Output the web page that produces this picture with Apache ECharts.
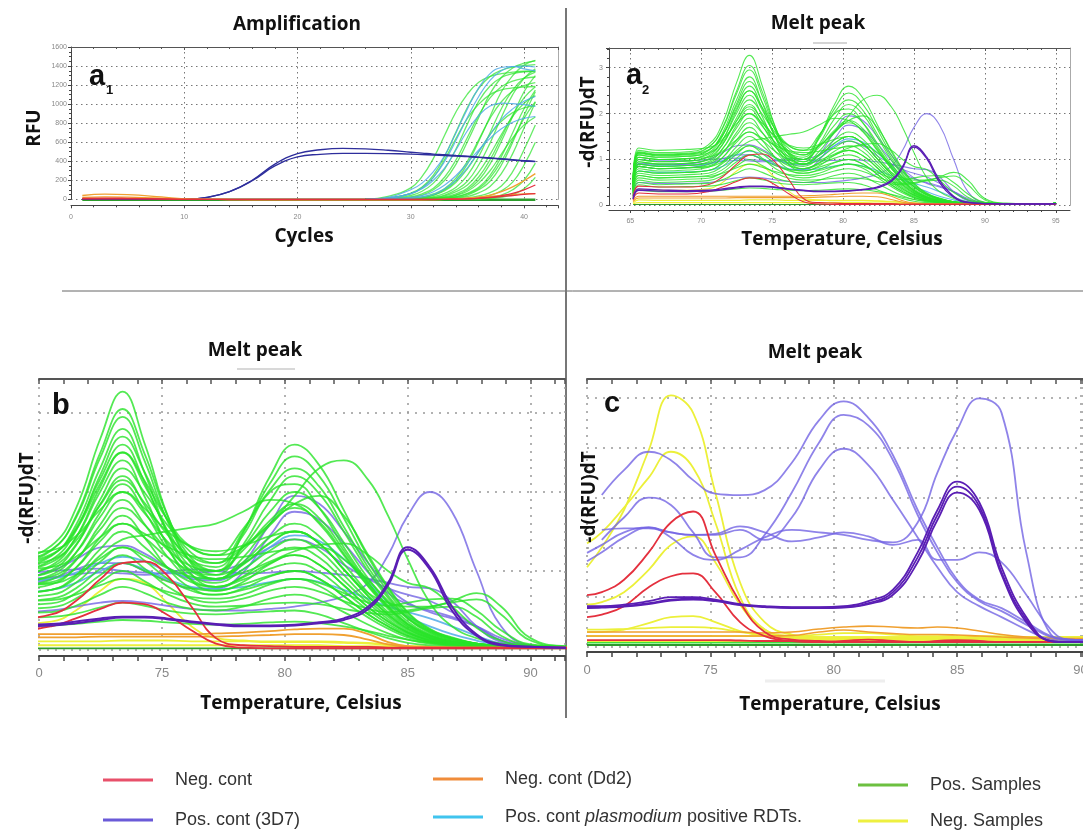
<!DOCTYPE html>
<html><head><meta charset="utf-8">
<script src="https://cdn.jsdelivr.net/npm/echarts@6/dist/echarts.min.js"></script>
<style>html,body{margin:0;padding:0;background:#fff;}#c{width:1083px;height:832px;}</style>
</head><body><div id="c"></div>
<script>
// ---------- names ----------
const N_NEG = 'Neg. cont';
const N_POS = 'Pos. cont (3D7)';
const N_DD2 = 'Neg. cont (Dd2)';
const N_RDT = 'Pos. cont plasmodium positive RDTs.';
const N_PS = 'Pos. Samples';
const N_NS = 'Neg. Samples';

// ---------- panel a1 : amplification ----------
const AMP_X = [1, 3, 5, 8, 10, 12, 14, 16, 18, 20, 22, 24, 26, 28, 30, 31, 32, 33, 34, 35, 36, 37, 38, 39, 40, 41];
const AMP_XL = [26, 28, 30, 31, 32, 33, 34, 35, 36, 37, 38, 39, 40, 41];
const AMP_3D7 = [
  [0,0,0,0,0,20,80,200,370,480,520,535,530,515,495,485,475,468,460,452,443,435,425,415,405,398],
  [0,0,0,0,0,20,80,195,350,445,472,482,482,480,475,470,465,460,455,448,440,432,423,413,403,396]
];
const AMP_RDT = [
  [0,20,100,170,290,460,700,950,1170,1320,1385,1395,1370,1350],
  [0,10,60,110,200,330,520,720,880,980,1010,1005,995,975],
  [0,5,20,40,80,150,250,380,520,640,740,810,850,870],
  [0,0,10,25,50,110,200,330,500,680,840,950,1030,1080],
  [0,10,60,120,230,400,620,860,1080,1250,1350,1395,1400,1390]
];
const AMP_POS = [
  [0,30,120,240,430,675,920,1105,1230,1290,1320,1335,1345,1348],
  [0,10,64,128,255,455,710,965,1165,1290,1356,1390,1405,1415],
  [0,5,26,58,117,234,416,650,884,1066,1183,1241,1270,1285],
  [0,4,19,45,100,200,370,605,860,1110,1280,1380,1430,1455],
  [0,0,10,25,56,112,225,400,625,850,1025,1137,1194,1225],
  [0,0,8,20,45,100,200,370,610,870,1130,1300,1410,1460],
  [0,0,5,12,28,63,126,252,448,700,952,1148,1274,1337],
  [0,0,4,9,20,45,100,190,360,590,860,1100,1270,1370],
  [0,0,0,5,12,26,58,117,234,416,650,884,1066,1183],
  [0,0,0,4,9,20,45,100,200,370,610,870,1130,1300],
  [0,0,0,0,5,12,28,63,126,252,448,700,952,1148],
  [0,0,0,0,4,10,20,45,100,190,360,600,880,1130],
  [0,0,0,0,0,5,12,30,68,135,270,480,750,1020],
  [0,0,0,0,0,0,5,15,35,70,140,290,520,780],
  [0,0,0,0,0,0,0,8,20,40,90,180,360,600],
  [0,0,0,0,0,0,0,0,8,20,45,100,200,380],
  [0,0,0,0,0,0,0,0,0,10,22,50,110,230],
  [0,15,60,120,230,420,640,850,1000,1100,1150,1170,1180,1185],
  [0,0,8,20,45,90,180,320,500,680,820,910,960,985],
  [0,0,0,4,9,19,42,85,170,300,475,645,780,865],
  [0,0,3,7,16,36,80,150,285,470,680,870,1010,1090],
  [0,0,0,0,5,11,25,56,112,225,400,625,850,1025],
  [0,7,40,85,170,320,530,790,1030,1190,1280,1320,1340,1345]
];
const AMP_POS_FLAT = [-5,-5,-5,-5,-5,-5,-5,-5,-5,-5,-5,-5,-5,-5,-5,-5,-5,-5,-5,-5,-5,-5,-5,-5,-5,-5];
const AMP_DD2 = [
  [40,55,50,25,5,0,-3,-5,-5,-5,-5,-5,-5,-5,-5,-5,-3,0,5,12,20,30,40,50,57,60],
  [20,25,22,12,3,0,-2,-3,-3,-3,-3,-3,-3,-3,-3,-3,-3,0,3,10,22,45,80,130,195,270]
];
const AMP_NEG = [
  [10,12,10,5,0,0,-2,-2,-2,-2,-2,-2,-2,-2,-2,-2,-2,0,2,5,10,20,38,62,100,150],
  [5,5,5,2,0,0,0,0,0,0,0,0,0,0,0,0,0,0,2,5,10,18,28,40,52,60]
];

// ---------- panels a2 and b : melt peak (same run) ----------
const MELT_X = [65.2,65.6,67,69,70.5,71.5,72.5,73.4,74.3,75.2,76.2,77.2,78.3,79.4,80.4,81.4,82.4,83.4,84.2,85.0,85.9,86.8,87.8,88.8,90,91.5,94.5,95];
const MELT_POS = [
  [0.52,1.2,1.15,1.17,1.32,1.79,2.68,3.27,2.61,1.73,1.09,0.9,1.08,1.35,1.5,1.35,1.02,0.68,0.45,0.27,0.15,0.09,0.06,0.05,0.04,0.03,0.03,0.05],
  [0.5,1.15,1.1,1.12,1.26,1.69,2.5,3.05,2.48,1.72,1.16,1.0,1.48,2.2,2.6,2.34,1.77,1.17,0.78,0.47,0.26,0.16,0.08,0.05,0.04,0.03,0.03,0.05],
  [0.5,1.17,1.12,1.14,1.27,1.67,2.44,2.95,2.39,1.65,1.11,0.95,1.33,1.89,2.2,1.98,1.5,0.99,0.66,0.4,0.22,0.13,0.08,0.05,0.04,0.03,0.03,0.05],
  [0.47,1.1,1.05,1.07,1.19,1.58,2.31,2.8,2.24,1.5,0.96,0.8,0.92,1.1,1.2,1.08,0.82,0.54,0.36,0.22,0.12,0.08,0.06,0.05,0.04,0.03,0.03,0.05],
  [0.45,1.05,1.0,1.02,1.14,1.51,2.22,2.7,2.25,1.66,1.23,1.1,1.5,2.11,2.45,2.2,1.67,1.1,0.74,0.44,0.25,0.15,0.08,0.05,0.04,0.03,0.03,0.05],
  [0.49,1.13,1.08,1.1,1.2,1.54,2.17,2.6,2.12,1.5,1.04,0.9,1.17,1.58,1.8,1.62,1.22,0.81,0.54,0.32,0.18,0.11,0.07,0.05,0.04,0.03,0.03,0.05],
  [0.43,1.0,0.95,0.97,1.07,1.42,2.07,2.5,2.08,1.53,1.12,1.0,1.3,1.75,2.0,1.8,1.36,0.9,0.6,0.36,0.2,0.12,0.07,0.05,0.04,0.03,0.03,0.05],
  [0.45,1.05,1.0,1.02,1.11,1.42,2.01,2.4,1.94,1.33,0.88,0.75,0.83,0.94,1.0,0.9,0.68,0.45,0.3,0.18,0.1,0.07,0.06,0.05,0.04,0.03,0.03,0.05],
  [0.4,0.95,0.9,0.92,1.01,1.32,1.91,2.3,1.99,1.59,1.29,1.2,1.3,1.6,1.95,2.3,2.4,2.15,1.7,1.15,0.6,0.3,0.15,0.08,0.05,0.04,0.03,0.05],
  [0.43,1.0,0.95,0.97,1.05,1.33,1.85,2.2,1.83,1.36,1.0,0.9,1.11,1.43,1.6,1.44,1.09,0.72,0.48,0.29,0.16,0.1,0.07,0.05,0.04,0.03,0.03,0.05],
  [0.38,0.9,0.85,0.87,0.95,1.23,1.75,2.1,1.75,1.29,0.95,0.85,1.02,1.26,1.4,1.26,0.95,0.63,0.42,0.25,0.14,0.09,0.06,0.05,0.04,0.03,0.03,0.05],
  [0.41,0.95,0.9,0.92,0.99,1.23,1.69,2.0,1.73,1.38,1.13,1.05,1.45,2.0,2.1,1.8,1.3,0.85,0.55,0.33,0.18,0.1,0.07,0.05,0.04,0.03,0.03,0.05],
  [0.36,0.85,0.8,0.82,0.89,1.13,1.59,1.9,1.59,1.19,0.89,0.8,0.89,1.03,1.1,0.99,0.75,0.5,0.33,0.2,0.11,0.08,0.06,0.05,0.04,0.03,0.03,0.05],
  [0.38,0.9,0.85,0.87,0.93,1.14,1.53,1.8,1.58,1.28,1.06,1.0,1.26,1.64,1.85,1.67,1.26,0.83,0.56,0.33,0.19,0.11,0.07,0.05,0.04,0.03,0.03,0.05],
  [0.34,0.8,0.75,0.77,0.83,1.04,1.43,1.7,1.42,1.05,0.78,0.7,0.76,0.85,0.9,0.81,0.61,0.41,0.27,0.16,0.1,0.07,0.06,0.05,0.04,0.03,0.03,0.05],
  [0.36,0.85,0.8,0.82,0.86,1.04,1.38,1.6,1.42,1.18,1.0,0.95,1.09,1.36,1.5,1.35,1.02,0.72,0.6,0.55,0.55,0.62,0.72,0.55,0.15,0.05,0.03,0.05],
  [0.32,0.75,0.7,0.72,0.76,0.94,1.28,1.5,1.3,1.05,0.86,0.8,0.93,1.18,1.3,1.17,0.88,0.59,0.39,0.23,0.13,0.08,0.06,0.05,0.04,0.03,0.03,0.05],
  [0.32,0.75,0.7,0.72,0.76,0.91,1.2,1.4,1.45,1.5,1.55,1.6,1.75,1.9,1.85,1.6,1.2,0.8,0.52,0.3,0.17,0.1,0.07,0.05,0.04,0.03,0.03,0.05],
  [0.29,0.7,0.65,0.67,0.7,0.85,1.12,1.3,1.13,0.91,0.75,0.7,0.78,0.93,1.0,0.9,0.68,0.45,0.3,0.18,0.1,0.07,0.06,0.05,0.04,0.03,0.03,0.05],
  [0.27,0.65,0.6,0.62,0.65,0.78,1.03,1.2,1.03,0.81,0.65,0.6,0.65,0.75,0.8,0.74,0.62,0.52,0.48,0.5,0.55,0.6,0.64,0.45,0.12,0.04,0.03,0.05],
  [0.25,0.6,0.55,0.57,0.59,0.72,0.95,1.1,1.0,0.87,0.78,0.75,0.86,1.09,1.2,1.08,0.82,0.54,0.36,0.22,0.12,0.08,0.06,0.05,0.04,0.03,0.03,0.05],
  [0.23,0.55,0.5,0.52,0.54,0.65,0.86,1.0,0.87,0.71,0.59,0.55,0.56,0.59,0.6,0.58,0.52,0.47,0.45,0.48,0.53,0.55,0.42,0.18,0.06,0.04,0.03,0.05],
  [0.2,0.5,0.45,0.47,0.48,0.56,0.7,0.8,0.72,0.6,0.52,0.5,0.55,0.65,0.7,0.63,0.48,0.32,0.21,0.13,0.08,0.06,0.05,0.05,0.04,0.03,0.03,0.05],
  [0.18,0.45,0.4,0.41,0.42,0.46,0.54,0.6,0.56,0.5,0.46,0.45,0.47,0.49,0.5,0.45,0.34,0.23,0.15,0.09,0.06,0.05,0.05,0.05,0.04,0.03,0.03,0.05],
  [0.54,1.25,1.2,1.22,1.26,1.44,1.78,2.0,1.79,1.51,1.31,1.25,1.32,1.44,1.5,1.35,1.02,0.68,0.45,0.27,0.15,0.09,0.06,0.05,0.04,0.03,0.03,0.05],
  [0.45,1.05,1.0,1.02,1.05,1.18,1.43,1.6,1.47,1.31,1.19,1.15,1.18,1.24,1.28,1.3,1.15,0.88,0.62,0.4,0.24,0.14,0.08,0.05,0.04,0.03,0.03,0.05],
  [0.36,0.85,0.8,0.82,0.84,0.95,1.16,1.3,1.19,1.04,0.93,0.9,0.98,1.12,1.25,1.33,1.35,1.2,1.0,0.85,0.78,0.55,0.28,0.12,0.05,0.04,0.03,0.05],
  [0.27,0.65,0.6,0.62,0.63,0.7,0.82,0.9,0.83,0.74,0.67,0.65,0.7,0.83,0.9,0.85,0.72,0.6,0.56,0.6,0.64,0.65,0.5,0.25,0.07,0.04,0.03,0.05],
  [0.5,1.15,1.1,1.12,1.21,1.52,2.11,2.5,2.14,1.66,1.3,1.2,1.53,2.03,2.3,2.07,1.56,1.04,0.69,0.41,0.23,0.14,0.08,0.05,0.04,0.03,0.03,0.05],
  [0.47,1.1,1.05,1.07,1.14,1.38,1.84,2.15,1.86,1.47,1.18,1.1,1.3,1.6,1.85,1.95,1.7,1.2,0.8,0.48,0.27,0.15,0.08,0.05,0.04,0.03,0.03,0.05],
  [0.14,0.33,0.3,0.3,0.31,0.33,0.36,0.38,0.37,0.35,0.33,0.32,0.33,0.35,0.36,0.34,0.3,0.24,0.18,0.13,0.09,0.07,0.06,0.05,0.04,0.03,0.03,0.05]
];
const MELT_POS_FLAT = [0.02,0.02,0.02,0.02,0.02,0.02,0.02,0.02,0.02,0.02,0.02,0.02,0.02,0.02,0.02,0.02,0.02,0.02,0.02,0.02,0.02,0.02,0.02,0.02,0.02,0.02,0.02,0.02];
const MELT_3D7_LIGHT = [
  [0.2,0.5,0.48,0.48,0.5,0.55,0.6,0.62,0.6,0.56,0.52,0.5,0.5,0.52,0.55,0.6,0.68,0.85,1.2,1.7,2.0,1.75,1.0,0.3,0.06,0.03,0.03,0.04],
  [0.4,0.9,0.88,0.9,1.0,1.15,1.3,1.32,1.22,1.05,0.9,0.88,1.1,1.6,1.95,1.85,1.5,1.1,0.8,0.6,0.48,0.4,0.3,0.15,0.05,0.03,0.03,0.04],
  [0.38,0.85,0.8,0.82,0.9,1.02,1.1,1.1,1.0,0.88,0.78,0.78,0.98,1.45,1.75,1.65,1.35,0.98,0.72,0.58,0.5,0.42,0.3,0.12,0.05,0.03,0.03,0.04],
  [0.45,1.0,0.97,0.97,1.0,1.02,1.03,1.0,0.98,0.97,0.98,1.0,1.1,1.3,1.4,1.3,1.08,0.9,0.78,0.7,0.62,0.48,0.3,0.12,0.05,0.03,0.03,0.04],
  [0.42,0.92,0.9,0.9,0.92,0.96,0.98,0.97,0.95,0.98,1.02,1.0,0.97,0.98,1.0,0.98,0.95,0.9,0.85,0.8,0.78,0.62,0.3,0.1,0.05,0.03,0.03,0.04]
];
const MELT_3D7_DARK = [
  [0.15,0.36,0.34,0.32,0.33,0.36,0.4,0.42,0.42,0.4,0.36,0.33,0.31,0.31,0.32,0.35,0.4,0.55,0.85,1.3,1.05,0.55,0.2,0.07,0.04,0.03,0.03,0.04],
  [0.14,0.33,0.31,0.3,0.31,0.34,0.38,0.41,0.41,0.39,0.35,0.32,0.3,0.3,0.31,0.34,0.38,0.52,0.82,1.27,1.02,0.5,0.18,0.06,0.04,0.03,0.03,0.04]
];
const MELT_RDT = [
  [0.4,0.9,0.86,0.87,0.9,0.98,1.1,1.18,1.12,1.0,0.92,0.9,1.02,1.3,1.45,1.38,1.15,0.85,0.6,0.42,0.3,0.2,0.12,0.06,0.04,0.03,0.03,0.04],
  [0.33,0.75,0.72,0.73,0.76,0.85,1.0,1.1,1.02,0.9,0.8,0.77,0.8,0.86,0.9,0.86,0.76,0.65,0.55,0.48,0.4,0.3,0.18,0.08,0.04,0.03,0.03,0.04]
];
const MELT_NEG = [
  [0.2,0.42,0.4,0.4,0.45,0.62,0.9,1.1,1.12,0.95,0.55,0.15,0.06,0.05,0.04,0.04,0.04,0.04,0.03,0.03,0.03,0.03,0.03,0.03,0.03,0.03,0.03,0.03],
  [0.12,0.27,0.25,0.25,0.3,0.4,0.52,0.6,0.58,0.45,0.25,0.08,0.03,0.02,0.02,0.02,0.02,0.02,0.02,0.02,0.02,0.02,0.02,0.02,0.02,0.02,0.02,0.02]
];
const MELT_DD2 = [
  [0.1,0.2,0.2,0.2,0.2,0.2,0.2,0.2,0.2,0.2,0.2,0.21,0.22,0.24,0.26,0.27,0.27,0.2,0.1,0.05,0.04,0.03,0.03,0.03,0.03,0.03,0.03,0.03],
  [0.08,0.16,0.16,0.16,0.16,0.16,0.17,0.17,0.17,0.17,0.17,0.17,0.18,0.19,0.2,0.2,0.19,0.13,0.07,0.04,0.03,0.03,0.03,0.03,0.03,0.03,0.03,0.03]
];
const MELT_NS = [
  [0.05,0.12,0.11,0.11,0.11,0.11,0.11,0.12,0.12,0.12,0.11,0.11,0.11,0.11,0.11,0.11,0.1,0.09,0.07,0.05,0.04,0.03,0.03,0.03,0.03,0.03,0.03,0.03],
  [0.03,0.06,0.06,0.06,0.06,0.06,0.06,0.06,0.06,0.06,0.06,0.06,0.06,0.06,0.06,0.06,0.05,0.05,0.04,0.04,0.03,0.03,0.03,0.03,0.03,0.03,0.03,0.03],
  [0.15,0.35,0.33,0.33,0.36,0.5,0.75,0.9,0.85,0.6,0.3,0.15,0.12,0.1,0.1,0.1,0.09,0.08,0.06,0.05,0.04,0.03,0.03,0.03,0.03,0.03,0.03,0.03]
];

// ---------- panel c : melt peak (controls + negative samples) ----------
const C_X = [70,70.6,71.5,72.5,73.4,74.3,75.2,76.2,77.2,78.3,79.4,80.4,81.4,82.4,83.4,84.2,85.0,85.9,86.8,87.8,88.8,89.5,90.3];
const C_3D7_LIGHT = [
  [null,3.05,3.55,3.92,3.75,3.35,3.08,3.05,3.15,3.7,4.55,4.93,4.6,3.85,2.75,2.0,1.35,0.95,0.78,0.5,0.22,0.15,0.14],
  [null,2.15,2.6,3.0,2.85,2.3,1.8,1.8,2.25,3.1,4.1,4.66,4.45,3.75,2.65,1.9,1.3,0.92,0.72,0.45,0.2,0.15,0.14],
  [1.89,2.05,2.3,2.4,2.3,2.25,2.25,2.35,2.15,2.6,3.55,3.98,3.65,2.95,2.2,1.6,1.1,0.82,0.6,0.35,0.15,0.12,0.12],
  [null,2.35,2.38,2.38,2.3,2.25,2.27,2.42,2.3,2.12,2.2,2.3,2.22,2.05,2.15,1.75,1.75,1.9,1.7,1.05,0.35,0.15,0.14],
  [1.72,1.9,2.2,2.4,2.2,1.85,1.75,1.95,2.2,2.35,2.3,2.25,2.15,2.1,2.5,3.5,4.36,4.99,4.7,1.9,0.25,0.15,0.14]
];
const C_3D7_DARK = [
  [0.82,0.82,0.85,0.92,1.0,1.0,0.95,0.86,0.82,0.8,0.8,0.82,0.92,1.15,1.9,2.75,3.32,2.9,1.6,0.6,0.12,0.1,0.1],
  [0.8,0.8,0.82,0.88,0.95,0.97,0.93,0.85,0.81,0.79,0.79,0.8,0.88,1.1,1.8,2.65,3.22,2.82,1.5,0.55,0.12,0.1,0.1],
  [0.78,0.79,0.81,0.86,0.93,0.95,0.92,0.84,0.8,0.78,0.78,0.79,0.86,1.05,1.7,2.55,3.1,2.75,1.45,0.5,0.12,0.1,0.1]
];
const C_NEG = [
  [1.04,1.1,1.35,1.9,2.5,2.72,1.85,0.9,0.3,0.15,0.12,0.1,0.1,0.1,0.1,0.1,0.1,0.1,0.1,0.1,0.1,0.1,0.1],
  [0.6,0.65,0.82,1.2,1.42,1.48,1.1,0.5,0.22,0.12,0.1,0.1,0.1,0.1,0.1,0.1,0.1,0.1,0.1,0.1,0.1,0.1,0.1],
  [0.14,0.14,0.14,0.14,0.14,0.14,0.14,0.13,0.12,0.12,0.1,0.12,0.15,0.12,0.1,0.12,0.14,0.12,0.1,0.1,0.1,0.1,0.1]
];
const C_NS = [
  [1.6,2.0,2.75,3.95,5.05,4.7,3.1,1.3,0.5,0.25,0.2,0.2,0.2,0.2,0.2,0.2,0.2,0.2,0.2,0.2,0.2,0.2,0.2],
  [2.08,2.3,2.8,3.4,3.92,3.6,2.5,1.0,0.35,0.2,0.18,0.18,0.18,0.18,0.18,0.18,0.18,0.18,0.18,0.18,0.18,0.18,0.18],
  [0.85,0.9,1.1,1.55,2.05,2.22,1.7,0.85,0.35,0.2,0.15,0.15,0.15,0.15,0.15,0.15,0.15,0.15,0.15,0.15,0.15,0.15,0.15],
  [0.3,0.3,0.35,0.48,0.6,0.62,0.5,0.32,0.22,0.18,0.15,0.15,0.15,0.15,0.15,0.15,0.15,0.15,0.15,0.15,0.15,0.15,0.15],
  [0.22,0.22,0.22,0.22,0.22,0.22,0.22,0.22,0.22,0.22,0.25,0.28,0.28,0.25,0.22,0.22,0.22,0.22,0.22,0.2,0.2,0.2,0.2],
  [0.12,0.12,0.12,0.12,0.12,0.12,0.12,0.12,0.12,0.12,0.12,0.12,0.12,0.12,0.12,0.12,0.12,0.12,0.12,0.12,0.12,0.12,0.12],
  [0.35,0.35,0.36,0.38,0.4,0.4,0.38,0.3,0.25,0.22,0.2,0.2,0.2,0.2,0.2,0.2,0.2,0.2,0.2,0.2,0.2,0.2,0.2]
];
const C_DD2 = [
  [0.3,0.3,0.3,0.3,0.3,0.3,0.3,0.3,0.28,0.3,0.36,0.4,0.42,0.4,0.38,0.4,0.38,0.32,0.25,0.2,0.18,0.17,0.17],
  [0.22,0.22,0.22,0.22,0.22,0.22,0.22,0.22,0.22,0.23,0.3,0.34,0.3,0.27,0.25,0.25,0.24,0.22,0.2,0.18,0.17,0.16,0.16]
];
const C_PS = [
  [0.09,0.09,0.09,0.09,0.09,0.09,0.09,0.09,0.09,0.09,0.09,0.09,0.09,0.09,0.09,0.09,0.09,0.09,0.09,0.09,0.09,0.09,0.09],
  [0.04,0.04,0.04,0.04,0.04,0.04,0.04,0.04,0.04,0.04,0.04,0.04,0.04,0.04,0.04,0.04,0.04,0.04,0.04,0.04,0.04,0.04,0.04]
];

// ---------- styling ----------
const FT = '"Open Sans", "DejaVu Sans", sans-serif';
const FL = '"Liberation Sans", Arial, sans-serif';
const COL = {
  green: 'rgba(40,228,40,0.8)', greenA1: 'rgba(45,228,45,0.72)', greenDark: '#2c9c2c',
  lav: 'rgba(115,100,228,0.8)', purple: '#5a1eb4', red: '#e4303e', orange: '#f0a030',
  yellow: '#ecf03a', lblue: 'rgba(80,170,230,0.85)', navy: '#2e2e9c'
};

// axis indices: [xAxisIndex, yAxisIndex] per panel
const AX = { a1: [0, 0], a2: [2, 1], b: [6, 3], c: [8, 4] };
function ln(name, xs, ys, color, width, ax, clip) {
  return {
    type: 'line', name: name, xAxisIndex: ax[0], yAxisIndex: ax[1],
    data: xs.map((x, i) => [x, ys[i]]),
    smooth: 0.45, symbol: 'none', showSymbol: false, clip: clip !== false,
    lineStyle: { color: color, width: width },
    itemStyle: { color: color }, silent: true, animation: false,
    emphasis: { disabled: true }, connectNulls: false
  };
}

const series = [];
// a1
series.push(ln(N_PS, AMP_X, AMP_POS_FLAT, COL.greenDark, 2.5, AX.a1, false));
AMP_POS.forEach(y => series.push(ln(N_PS, AMP_XL, y, COL.greenA1, 1.3, AX.a1, false)));
AMP_RDT.forEach(y => series.push(ln(N_RDT, AMP_XL, y, COL.lblue, 1.2, AX.a1, false)));
AMP_3D7.forEach(y => series.push(ln(N_POS, AMP_X, y, COL.navy, 1.4, AX.a1, false)));
AMP_DD2.forEach(y => series.push(ln(N_DD2, AMP_X, y, COL.orange, 1.3, AX.a1, false)));
AMP_NEG.forEach(y => series.push(ln(N_NEG, AMP_X, y, COL.red, 1.3, AX.a1, false)));
// a2 and b : same run
[AX.a2, AX.b].forEach(ax => {
  const w = ax === AX.a2 ? 1.1 : 1.8;
  MELT_NS.forEach(y => series.push(ln(N_NS, MELT_X, y, COL.yellow, w, ax)));
  MELT_3D7_LIGHT.forEach(y => series.push(ln(N_POS, MELT_X, y, COL.lav, w, ax)));
  MELT_RDT.forEach(y => series.push(ln(N_RDT, MELT_X, y, COL.lblue, w, ax)));
  MELT_POS.forEach(y => series.push(ln(N_PS, MELT_X, y, COL.green, w, ax)));
  series.push(ln(N_PS, MELT_X, MELT_POS_FLAT, COL.greenDark, w, ax));
  MELT_DD2.forEach(y => series.push(ln(N_DD2, MELT_X, y, COL.orange, w, ax)));
  MELT_NEG.forEach(y => series.push(ln(N_NEG, MELT_X, y, COL.red, w, ax)));
  MELT_3D7_DARK.forEach(y => series.push(ln(N_POS, MELT_X, y, COL.purple, w + 0.2, ax)));
});
// c
C_PS.forEach((y, i) => series.push(ln(N_PS, C_X, y, i ? COL.greenDark : '#3ee03e', 2, AX.c)));
C_NS.forEach(y => series.push(ln(N_NS, C_X, y, COL.yellow, 1.8, AX.c)));
C_DD2.forEach(y => series.push(ln(N_DD2, C_X, y, COL.orange, 1.6, AX.c)));
C_3D7_LIGHT.forEach(y => series.push(ln(N_POS, C_X, y, COL.lav, 1.8, AX.c)));
C_NEG.forEach(y => series.push(ln(N_NEG, C_X, y, COL.red, 1.8, AX.c)));
C_3D7_DARK.forEach(y => series.push(ln(N_POS, C_X, y, COL.purple, 1.8, AX.c)));

// ---------- grids ----------
// a1: 0-level at y=199, frame bottom 205 ; a2: 0-level 205.4, frame bottom 210
const GB = { show: false, containLabel: false, outerBoundsMode: 'none' };
const grid = [
  Object.assign({ left: 71, top: 47, width: 487, height: 152.3 }, GB),          // 0 a1
  Object.assign({ left: 609, top: 48, width: 461, height: 157.4 }, GB),         // 1 a2 data
  Object.assign({ left: 630.3, top: 48, width: 425.5, height: 157.4 }, GB),     // 2 a2 ticks 65..95
  Object.assign({ left: 39, top: 379, width: 526, height: 271 }, GB),           // 3 b
  Object.assign({ left: 587, top: 379, width: 496, height: 268 }, GB)           // 4 c
];

// ---------- axes ----------
const dotA = { show: true, lineStyle: { color: '#777', type: [1.5, 3.5], width: 1 } };
const dotB = { show: true, lineStyle: { color: '#999', type: [2, 6], width: 1.5 } };
const none = { show: false };
const lblSmall = { fontSize: 7, color: '#888', fontFamily: FL, formatter: v => String(v) };
const xAxis = [
  // 0 a1 bottom
  { gridIndex: 0, type: 'value', min: 0, max: 43, interval: 10, position: 'bottom', offset: 6,
    axisLine: { show: true, onZero: false, lineStyle: { color: '#444' } },
    axisTick: { show: true, length: 3, lineStyle: { color: '#444' } },
    minorTick: { show: true, splitNumber: 5, length: 2, lineStyle: { color: '#444' } },
    axisLabel: Object.assign({ margin: 8, showMaxLabel: false }, lblSmall), splitLine: dotA },
  // 1 a1 top
  { gridIndex: 0, type: 'value', min: 0, max: 43, interval: 10, position: 'top',
    axisLine: { show: true, onZero: false, lineStyle: { color: '#555' } },
    axisTick: { show: true, inside: true, length: 3, lineStyle: { color: '#555' } },
    minorTick: { show: true, splitNumber: 5, length: 2, lineStyle: { color: '#555' } },
    axisLabel: none, splitLine: none },
  // 2 a2 data bottom (line only)
  { gridIndex: 1, type: 'value', min: 63.5, max: 96, position: 'bottom', offset: 4.6,
    axisLine: { show: true, onZero: false, lineStyle: { color: '#444' } },
    axisTick: none, minorTick: none, axisLabel: none, splitLine: none },
  // 3 a2 data top (line only)
  { gridIndex: 1, type: 'value', min: 63.5, max: 96, position: 'top',
    axisLine: { show: true, onZero: false, lineStyle: { color: '#555' } },
    axisTick: none, minorTick: none, axisLabel: none, splitLine: none },
  // 4 a2 ticks bottom 65..95
  { gridIndex: 2, type: 'value', min: 65, max: 95, interval: 5, position: 'bottom', offset: 4.6,
    axisLine: { show: false, onZero: false },
    axisTick: { show: true, length: 3, lineStyle: { color: '#444' } },
    minorTick: { show: true, splitNumber: 5, length: 2, lineStyle: { color: '#444' } },
    axisLabel: Object.assign({ margin: 8 }, lblSmall), splitLine: dotA },
  // 5 a2 ticks top
  { gridIndex: 2, type: 'value', min: 65, max: 95, interval: 5, position: 'top',
    axisLine: { show: false, onZero: false },
    axisTick: { show: true, inside: true, length: 3, lineStyle: { color: '#555' } },
    minorTick: { show: true, splitNumber: 5, length: 2, lineStyle: { color: '#555' } },
    axisLabel: none, splitLine: none },
  // 6 b bottom
  { gridIndex: 3, type: 'value', min: 70, max: 91.4, interval: 5, position: 'bottom', offset: 6,
    axisLine: { show: true, onZero: false, lineStyle: { color: '#444', width: 2 } },
    axisTick: { show: true, length: 5, lineStyle: { color: '#444', width: 1.5 } },
    minorTick: { show: true, splitNumber: 5, length: 5, lineStyle: { color: '#444', width: 1.5 } },
    axisLabel: { fontSize: 13, color: '#888', margin: 11, fontFamily: FL, showMaxLabel: false,
      formatter: v => v === 70 ? '0' : String(v) },
    splitLine: dotB },
  // 7 b top
  { gridIndex: 3, type: 'value', min: 70, max: 91.4, interval: 5, position: 'top',
    axisLine: { show: true, onZero: false, lineStyle: { color: '#555', width: 2 } },
    axisTick: { show: true, inside: true, length: 5, lineStyle: { color: '#555', width: 1.5 } },
    minorTick: { show: true, splitNumber: 5, length: 5, lineStyle: { color: '#555', width: 1.5 } },
    axisLabel: none, splitLine: none },
  // 8 c bottom
  { gridIndex: 4, type: 'value', min: 70, max: 90.1, interval: 5, position: 'bottom', offset: 5,
    axisLine: { show: true, onZero: false, lineStyle: { color: '#444', width: 2 } },
    axisTick: { show: true, length: 5, lineStyle: { color: '#444', width: 1.5 } },
    minorTick: { show: true, splitNumber: 5, length: 5, lineStyle: { color: '#444', width: 1.5 } },
    axisLabel: { fontSize: 13, color: '#888', margin: 12, fontFamily: FL, showMaxLabel: false,
      formatter: v => v === 70 ? '0' : String(v) },
    splitLine: dotB },
  // 9 c top
  { gridIndex: 4, type: 'value', min: 70, max: 90.1, interval: 5, position: 'top',
    axisLine: { show: true, onZero: false, lineStyle: { color: '#555', width: 2 } },
    axisTick: { show: true, inside: true, length: 5, lineStyle: { color: '#555', width: 1.5 } },
    minorTick: { show: true, splitNumber: 5, length: 5, lineStyle: { color: '#555', width: 1.5 } },
    axisLabel: none, splitLine: none }
];
const yAxis = [
  // 0 a1
  { gridIndex: 0, type: 'value', min: 0, max: 1600, interval: 200,
    axisLine: { show: true, onZero: false, lineStyle: { color: '#444' } },
    axisTick: { show: true, length: 3, lineStyle: { color: '#444' } },
    minorTick: { show: true, splitNumber: 4, length: 2, lineStyle: { color: '#444' } },
    axisLabel: Object.assign({ margin: 4 }, lblSmall), splitLine: dotA },
  // 1 a2 data
  { gridIndex: 1, type: 'value', min: 0, max: 3.43, interval: 1,
    axisLine: { show: true, onZero: false, lineStyle: { color: '#444' } },
    axisTick: { show: true, length: 3, lineStyle: { color: '#444' } },
    minorTick: { show: true, splitNumber: 5, length: 2, lineStyle: { color: '#444' } },
    axisLabel: Object.assign({ margin: 6, showMaxLabel: false }, lblSmall), splitLine: dotA },
  // 2 a2 tick grid (hidden)
  { gridIndex: 2, type: 'value', min: 0, max: 1, show: false },
  // 3 b
  { gridIndex: 3, type: 'value', min: 0, max: 3.43, interval: 1,
    axisLine: none, axisTick: none, axisLabel: none, splitLine: dotB },
  // 4 c
  { gridIndex: 4, type: 'value', min: 0, max: 5.38, interval: 1,
    axisLine: none, axisTick: none, axisLabel: none, splitLine: dotB },
  // 5 a1 right border
  { gridIndex: 0, type: 'value', min: 0, max: 1600, position: 'right',
    axisLine: { show: true, onZero: false, lineStyle: { color: '#aaa' } }, axisTick: none, axisLabel: none, splitLine: none },
  // 6 a2 right border
  { gridIndex: 1, type: 'value', min: 0, max: 3.43, position: 'right',
    axisLine: { show: true, onZero: false, lineStyle: { color: '#aaa' } }, axisTick: none, axisLabel: none, splitLine: none }
];

// ---------- legend (6 single-item legends) ----------
const LEG = [
  { name: N_NEG, color: '#e8506a', left: 103, cy: 781 },
  { name: N_POS, color: '#6a5ad8', left: 103, cy: 821 },
  { name: N_DD2, color: '#f08c3a', left: 433, cy: 780 },
  { name: N_RDT, color: '#40c4ee', left: 433, cy: 818 },
  { name: N_PS, color: '#6cc040', left: 858, cy: 786 },
  { name: N_NS, color: '#eef040', left: 858, cy: 822 }
];
const legend = LEG.map(l => ({
  left: l.left, top: l.cy - 10, padding: 0, itemGap: 0, itemWidth: 50, itemHeight: 3,
  icon: 'rect', selectedMode: false,
  data: [{ name: l.name, icon: 'rect', itemStyle: { color: l.color, opacity: 1 } }],
  formatter: n => n === N_RDT ? 'Pos. cont {i|plasmodium} positive RDTs.' : n,
  textStyle: { fontSize: 18, fontFamily: FL, color: '#333', padding: [0, 0, 0, 17],
    rich: { i: { fontSize: 18, fontFamily: FL, color: '#333', fontStyle: 'italic' } } }
}));

// ---------- text & decoration ----------
function txt(s, x, y, size, opt) {
  opt = opt || {};
  return { type: 'text', x: x, y: y, rotation: opt.rot || 0, silent: true, z: 100,
    style: { text: s, x: 0, y: 0, align: opt.align || 'center', verticalAlign: 'middle',
      font: (opt.weight || 'bold') + ' ' + size + 'px ' + (opt.family || FT), fill: opt.fill || '#111' } };
}
const R = Math.PI / 2;
const graphic = [
  { type: 'line', silent: true, shape: { x1: 62, y1: 291, x2: 1083, y2: 291 }, style: { stroke: '#666', lineWidth: 1 } },
  { type: 'line', silent: true, shape: { x1: 566, y1: 8, x2: 566, y2: 718 }, style: { stroke: '#777', lineWidth: 2 } },
  { type: 'line', silent: true, shape: { x1: 813, y1: 43, x2: 847, y2: 43 }, style: { stroke: '#d4d4d4', lineWidth: 2 } },
  { type: 'line', silent: true, shape: { x1: 237, y1: 369, x2: 295, y2: 369 }, style: { stroke: '#d8d8d8', lineWidth: 2 } },
  { type: 'line', silent: true, shape: { x1: 765, y1: 681, x2: 885, y2: 681 }, style: { stroke: '#eeeeee', lineWidth: 3 } },
  txt('Amplification', 297, 24.5, 19),
  txt('Melt peak', 818, 24, 19),
  txt('Melt peak', 255, 351, 19),
  txt('Melt peak', 815, 353, 19),
  txt('Cycles', 304, 237, 19),
  txt('Temperature, Celsius', 842, 240, 19),
  txt('Temperature, Celsius', 301, 704, 19),
  txt('Temperature, Celsius', 840, 705, 19),
  txt('RFU', 35, 128, 19, { rot: R }),
  txt('-d(RFU)dT', 589, 122, 19, { rot: R }),
  txt('-d(RFU)dT', 28, 498, 19, { rot: R }),
  txt('-d(RFU)dT', 590, 497, 19, { rot: R }),
  txt('a', 89, 77, 29, { align: 'left', family: FL }),
  txt('1', 106, 90, 13, { align: 'left', family: FL }),
  txt('a', 626, 76, 29, { align: 'left', family: FL }),
  txt('2', 642, 90, 13, { align: 'left', family: FL }),
  txt('b', 52, 406, 29, { align: 'left', family: FL }),
  txt('c', 604, 404, 29, { align: 'left', family: FL })
];

const chart = echarts.init(document.getElementById('c'), null, { renderer: 'canvas', width: 1083, height: 832 });
chart.setOption({
  backgroundColor: '#fff', animation: false,
  grid: grid, xAxis: xAxis, yAxis: yAxis, legend: legend, series: series, graphic: graphic
});
</script></body></html>
